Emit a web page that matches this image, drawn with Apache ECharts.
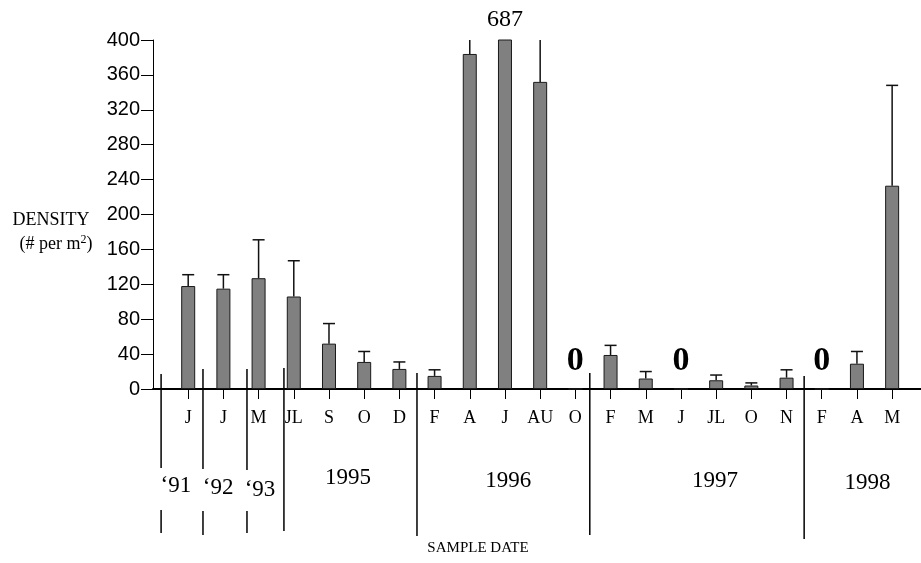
<!DOCTYPE html>
<html>
<head>
<meta charset="utf-8">
<style>
  html, body { margin: 0; padding: 0; background: #fff; }
  #chart { width: 921px; height: 563px; }
</style>
<script src="https://cdn.jsdelivr.net/npm/echarts@6/dist/echarts.min.js"></script>
</head>
<body>
<div id="chart"></div>
<script>
// sample months, one bar each, left to right
const months = ['J', 'J', 'M', 'JL', 'S', 'O', 'D', 'F', 'A', 'J', 'AU', 'O', 'F', 'M', 'J', 'JL', 'O', 'N', 'F', 'A', 'M']
// mean density (# per m2)
const density = [118, 115, 127, 106, 52, 31, 23, 15, 384, 687, 352, 0, 39, 12, 0, 10, 4, 13, 0, 29, 233]
// upper end of the error bar
const upper = [131, 131, 171, 147, 75, 43, 31, 22, 460, null, 440, null, 50, 20, null, 16, 7, 22, null, 43, 348]
const yTicks = [0, 40, 80, 120, 160, 200, 240, 280, 320, 360, 400]
// year groups: label and centre (in bar units)
const years = ["‘91", "‘92", "‘93", '1995', '1996', '1997', '1998']
const yearPos = [0.65, 1.85, 3.04, 5.54, 10.09, 15.97, 20.3]
// year dividers (in bar units)
const dividers = [0.23, 1.42, 2.67, 3.72, 7.5, 12.41, 18.5]

const serif = '"Liberation Serif", "Times New Roman", serif'
const sans = '"Liberation Sans", Arial, sans-serif'
const xs = months.map((m, i) => i + 1)

const chart = echarts.init(document.getElementById('chart'))

chart.setOption({
  animation: false,
  grid: { left: 153, top: 40, right: 0, bottom: 174, show: false },
  xAxis: [{
    type: 'value',
    min: 0,
    max: 21.82,
    splitLine: { show: false },
    axisLine: { show: true, onZero: false, lineStyle: { color: '#000', width: 2 } },
    axisTick: { show: true, customValues: xs, length: 10, lineStyle: { color: '#000', width: 1 } },
    axisLabel: {
      show: true,
      customValues: xs,
      margin: 20,
      color: '#000',
      fontFamily: serif,
      fontSize: 18,
      formatter: (v) => months[Math.round(v) - 1] || ''
    }
  }, {
    type: 'value',
    position: 'top',
    min: 0,
    max: 21.82,
    splitLine: { show: false },
    axisLine: { show: true, lineStyle: { color: '#000', width: 1 } },
    axisTick: { show: false },
    axisLabel: { show: false }
  }],
  yAxis: {
    type: 'value',
    min: 0,
    max: 400,
    interval: 40,
    splitLine: { show: false },
    axisLine: { show: true, lineStyle: { color: '#000', width: 1 } },
    axisTick: { show: true, length: 12, lineStyle: { color: '#000' } },
    axisLabel: {
      margin: 13,
      color: '#000',
      fontFamily: sans,
      fontSize: 20,
      formatter: (v) => (yTicks.includes(v) ? String(v) : '')
    }
  },
  series: [{
    type: 'bar',
    barWidth: 14,
    data: xs.map((x, i) => [x, density[i]]),
    itemStyle: { color: '#808080', borderColor: '#1a1a1a', borderWidth: 1 },
    label: {
      show: true,
      position: 'top',
      distance: 10,
      color: '#000',
      fontFamily: serif,
      fontWeight: 'bold',
      fontSize: 34,
      formatter: (p) => (p.value[1] === 0 ? '0' : '')
    },
    z: 2
  }, {
    type: 'custom',
    data: xs.map((x, i) => [x, density[i], upper[i]]),
    clip: false,
    z: 3,
    renderItem: (params, api) => {
      const hi = api.value(2)
      if (hi == null || isNaN(hi)) return
      const x = api.value(0)
      const base = api.coord([x, api.value(1)])
      const top = api.coord([x, Math.min(hi, 400)])
      const style = { stroke: '#111', lineWidth: 1.5 }
      const kids = [{ type: 'line', shape: { x1: base[0], y1: base[1], x2: top[0], y2: top[1] }, style }]
      if (hi <= 400) {
        kids.push({ type: 'line', shape: { x1: top[0] - 6, y1: top[1], x2: top[0] + 6, y2: top[1] }, style })
      }
      return { type: 'group', children: kids }
    }
  }]
})

// dividers, year labels and titles placed from the axis scale
const zeroY = chart.convertToPixel({ gridIndex: 0 }, [0, 0])[1]
const px = (v) => chart.convertToPixel({ xAxisIndex: 0 }, v)
const divTop = [15, 20, 20, 21, 16, 16, 13]
const divSegs = [
  [[0, 79], [121, 144]],
  [[0, 80], [122, 146]],
  [[0, 81], [122, 144]],
  [[0, 142]],
  [[0, 147]],
  [[0, 146]],
  [[0, 150]]
]
const yearY = [486, 488, 490, 478, 481, 481, 483]
const graphics = []
dividers.forEach((d, i) => {
  const x = px(d)
  divSegs[i].forEach((s, k) => {
    const y1 = k === 0 ? zeroY - divTop[i] : zeroY + s[0]
    graphics.push({
      type: 'line',
      shape: { x1: x, y1: y1, x2: x, y2: zeroY + s[1] },
      style: { stroke: '#000', lineWidth: 1.5 }
    })
  })
})
years.forEach((y, i) => {
  graphics.push({
    type: 'text',
    x: px(yearPos[i]),
    y: yearY[i],
    style: { text: y, fill: '#000', font: '23px ' + serif, align: 'center', verticalAlign: 'middle' }
  })
})
graphics.push({
  type: 'text',
  x: px(10),
  y: 20,
  style: { text: String(density[9]), fill: '#000', font: '24px ' + serif, align: 'center', verticalAlign: 'middle' }
})
graphics.push({
  type: 'text', x: 51, y: 220,
  style: { text: 'DENSITY', fill: '#000', font: '18px ' + serif, align: 'center', verticalAlign: 'middle' }
})
graphics.push({
  type: 'text', x: 56, y: 244,
  style: {
    text: '(# per m{sup|2})',
    fill: '#000',
    font: '18px ' + serif,
    align: 'center',
    verticalAlign: 'middle',
    rich: { sup: { fontFamily: serif, fontSize: 12, fill: '#000', padding: [0, 0, 9, 0] } }
  }
})
graphics.push({
  type: 'text', x: 478, y: 548,
  style: { text: 'SAMPLE DATE', fill: '#000', font: '15px ' + serif, align: 'center', verticalAlign: 'middle' }
})
chart.setOption({ graphic: graphics })
</script>
</body>
</html>
